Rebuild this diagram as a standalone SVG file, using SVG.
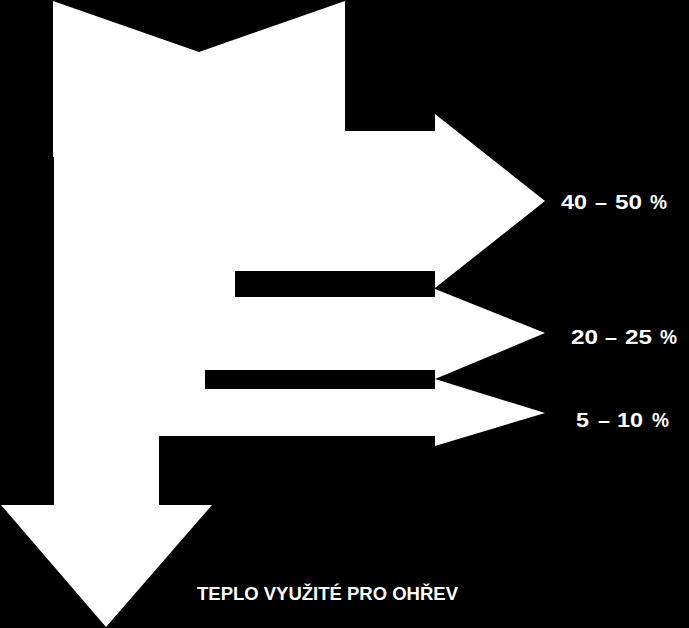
<svg xmlns="http://www.w3.org/2000/svg" width="689" height="628" viewBox="0 0 689 628">
<style>
.lbl{font-family:"Liberation Sans",Arial,sans-serif;font-weight:bold;fill:#fff}
.num{font-size:21px}
.cap{font-size:18.5px}
.flow{fill:#fff}
.gap{fill:#000}
</style>
<rect width="689" height="628" fill="#000"/>
<g id="flow">
<polygon class="flow" points="53,1 199,52 345,1 345,131 435,131 435,114 545,201 435,288 435,289 545,333 435,379 545,413 435,446 435,436 159,436 159,505 212,505 106,627 1,505 54,505 54,157 53,157"/>
</g>
<g id="gaps">
<rect class="gap" x="235" y="271" width="200" height="26"/>
<rect class="gap" x="205" y="370" width="230" height="19"/>
</g>
<g id="label1"><text class="lbl num" y="209"><tspan x="561" textLength="26" lengthAdjust="spacingAndGlyphs">40</tspan><tspan x="595" textLength="12" lengthAdjust="spacingAndGlyphs">–</tspan><tspan x="615" textLength="27" lengthAdjust="spacingAndGlyphs">50</tspan><tspan x="650" textLength="17" lengthAdjust="spacingAndGlyphs">%</tspan></text></g>
<g id="label2"><text class="lbl num" y="344"><tspan x="571" textLength="27" lengthAdjust="spacingAndGlyphs">20</tspan><tspan x="605" textLength="12" lengthAdjust="spacingAndGlyphs">–</tspan><tspan x="625" textLength="27" lengthAdjust="spacingAndGlyphs">25</tspan><tspan x="660" textLength="17" lengthAdjust="spacingAndGlyphs">%</tspan></text></g>
<g id="label3"><text class="lbl num" y="427"><tspan x="576" textLength="13" lengthAdjust="spacingAndGlyphs">5</tspan><tspan x="598" textLength="12" lengthAdjust="spacingAndGlyphs">–</tspan><tspan x="617" textLength="26" lengthAdjust="spacingAndGlyphs">10</tspan><tspan x="652" textLength="17" lengthAdjust="spacingAndGlyphs">%</tspan></text></g>
<g id="label4"><text class="lbl cap" x="197" y="600" textLength="261" lengthAdjust="spacingAndGlyphs">TEPLO VYUŽITÉ PRO OHŘEV</text></g>
</svg>
